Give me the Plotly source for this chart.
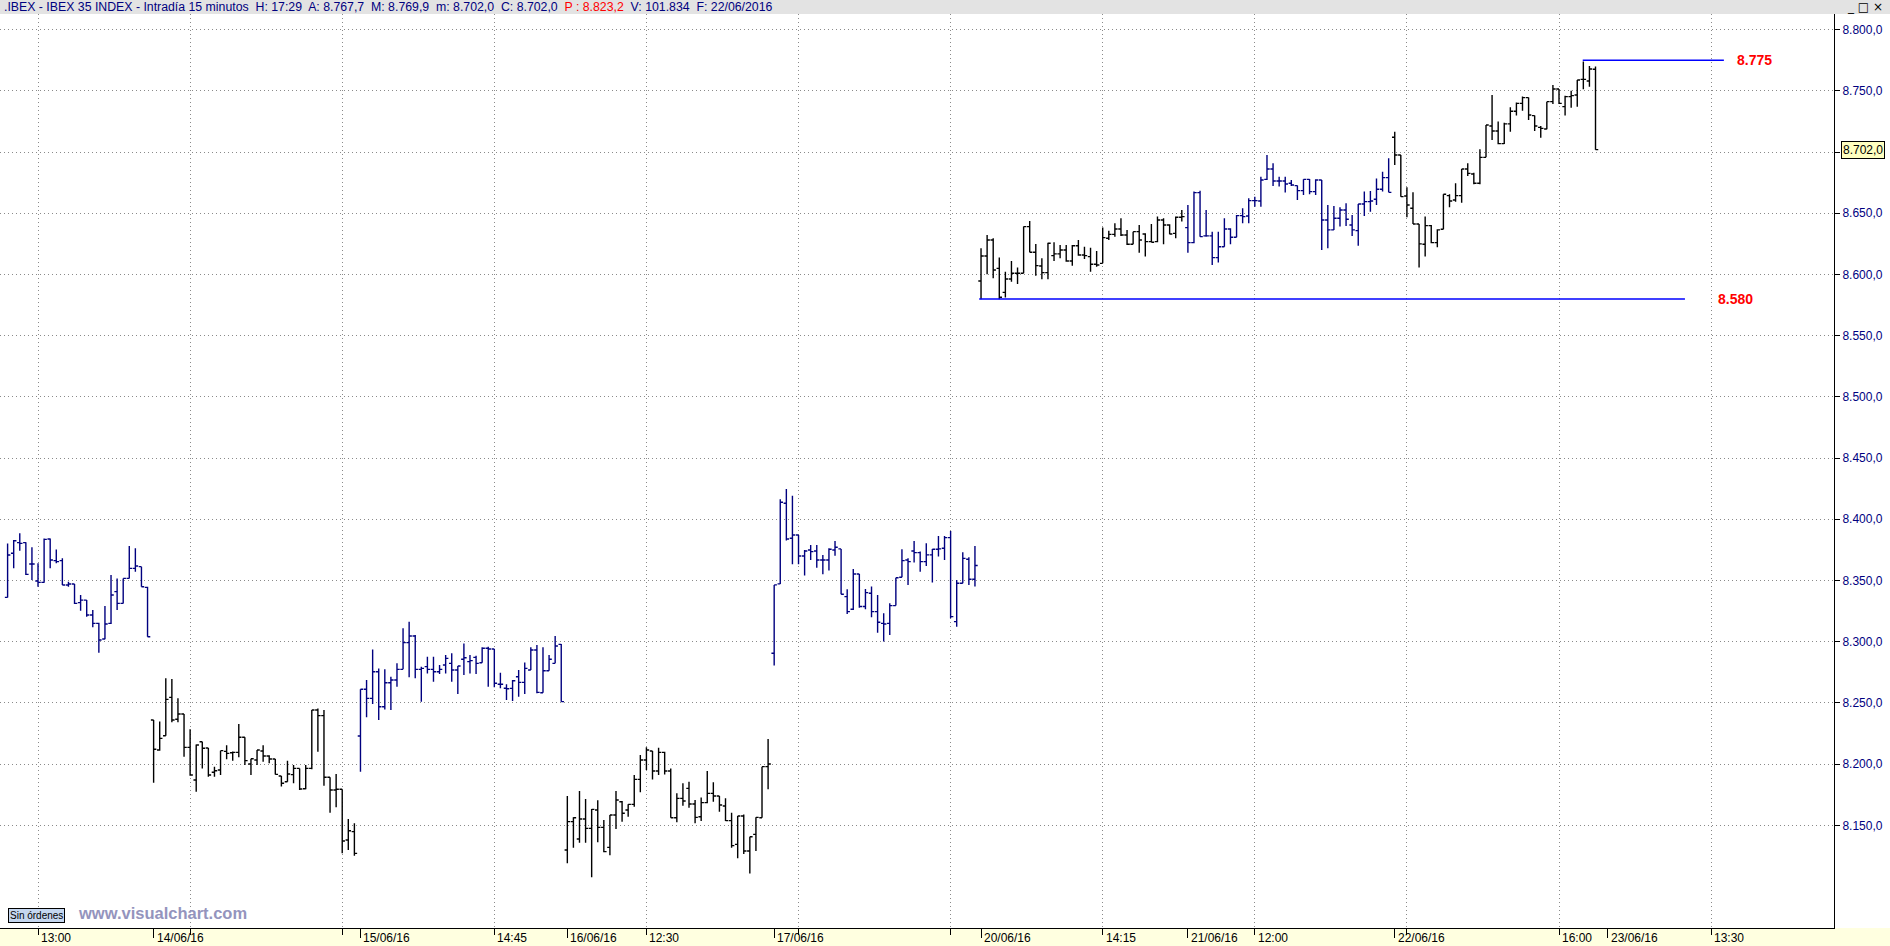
import plotly.graph_objects as go

# ---------------- data (15-minute OHLC bars, IBEX 35) ----------------
# slot index 0 == 13/06 13:00 ; 34 slots per session
bars_13_06 = [(8336.2,8380.3,8336.2,8370.8),(8372.2,8383.1,8359.9,8382.5),(8380.9,8388.5,8374.3,8380.3),
    (8380.9,8381.2,8354.5,8355.0),(8363.5,8377.1,8350.4,8363.5),(8349.6,8364.0,8344.9,8348.5),
    (8348.5,8384.4,8348.2,8383.6),(8383.9,8384.4,8359.9,8366.7),(8366.2,8375.4,8364.0,8365.4),
    (8366.2,8368.1,8346.3,8346.3),(8346.3,8349.0,8344.9,8347.1),(8347.1,8347.1,8330.8,8331.3),
    (8331.9,8338.1,8325.3,8334.0),(8334.0,8334.0,8320.4,8321.8),(8321.8,8325.9,8311.7,8315.0),
    (8315.0,8315.5,8291.0,8301.4),(8302.2,8329.1,8301.9,8314.4),(8315.0,8354.5,8314.4,8338.1),
    (8340.9,8351.7,8325.9,8331.3),(8331.3,8351.7,8331.3,8351.7),(8351.7,8378.2,8351.7,8359.9),
    (8359.9,8376.3,8357.2,8361.8),(8361.3,8361.3,8344.9,8344.9),(8344.4,8344.9,8304.1,8304.1)]
bars_14_06 = [(8236.0,8236.0,8184.8,8212.1),(8211.5,8234.7,8211.0,8221.0),(8223.2,8270.1,8223.2,8252.9),
    (8254.5,8269.5,8234.1,8236.0),(8236.6,8253.7,8234.1,8240.9),(8240.9,8240.9,8206.1,8213.7),
    (8213.7,8228.4,8190.5,8191.1),(8187.0,8216.1,8177.5,8215.6),(8218.3,8218.3,8196.5,8212.9),
    (8213.2,8213.2,8189.7,8191.1),(8193.3,8197.9,8189.7,8194.6),(8195.2,8211.0,8191.1,8211.0),
    (8210.4,8215.3,8203.9,8208.8),(8209.3,8210.2,8202.8,8209.6),(8209.6,8232.8,8205.5,8221.9),
    (8221.9,8221.9,8199.3,8202.8),(8200.1,8204.4,8191.1,8204.4),(8203.4,8211.5,8199.3,8211.5),
    (8210.7,8215.3,8202.0,8206.6),(8206.6,8207.2,8200.6,8204.2),(8204.2,8204.2,8191.6,8191.6),
    (8190.3,8190.3,8181.6,8184.3),(8185.6,8202.8,8185.6,8191.9),(8191.4,8199.3,8184.3,8196.5),
    (8196.5,8196.5,8178.8,8179.7),(8179.9,8199.3,8179.4,8196.5),(8196.5,8244.2,8195.7,8244.2),
    (8244.2,8245.5,8210.1,8239.6),(8239.6,8244.2,8182.4,8189.2),(8189.2,8189.2,8160.3,8178.8),
    (8178.8,8191.9,8164.7,8179.4),(8179.4,8179.4,8127.1,8137.2),(8138.0,8155.1,8129.8,8145.6),
    (8144.8,8151.6,8125.2,8127.1)]
bars_15_06 = [(8223.0,8261.1,8193.8,8261.1),(8261.1,8268.7,8238.2,8253.7),(8253.7,8293.7,8249.1,8275.5),
    (8275.5,8278.2,8236.0,8246.9),(8246.9,8277.4,8244.7,8266.5),(8266.5,8271.4,8244.2,8268.7),
    (8268.7,8282.3,8263.2,8277.4),(8277.4,8310.9,8277.4,8299.2),(8299.2,8316.3,8270.9,8304.6),
    (8304.6,8305.5,8270.1,8277.4),(8277.4,8279.6,8251.0,8278.2),(8279.6,8287.8,8274.1,8277.4),
    (8277.4,8287.8,8267.3,8275.5),(8275.5,8281.0,8273.6,8277.4),(8281.0,8289.1,8274.1,8286.4),
    (8282.3,8290.5,8267.3,8276.9),(8276.9,8280.1,8257.3,8280.1),(8285.6,8298.6,8272.8,8286.9),
    (8283.7,8289.1,8274.1,8284.5),(8287.2,8288.6,8273.6,8282.3),(8282.8,8295.4,8282.8,8294.6),
    (8294.6,8295.9,8263.2,8294.0),(8294.0,8294.0,8262.7,8266.0),(8265.2,8274.7,8261.9,8265.2),
    (8262.0,8265.2,8252.4,8261.6),(8261.9,8268.7,8251.5,8268.1),(8271.4,8276.9,8255.1,8266.8),
    (8266.8,8283.1,8257.3,8278.2),(8276.9,8295.4,8276.9,8293.2),(8293.2,8297.3,8257.8,8258.6),
    (8258.3,8295.4,8258.3,8276.3),(8276.3,8289.1,8276.3,8285.6),(8282.3,8304.6,8282.3,8296.5),
    (8297.8,8298.1,8251.0,8251.0)]
bars_16_06 = [(8129.8,8173.9,8118.9,8153.0),(8153.0,8156.5,8131.7,8156.2),(8138.8,8178.0,8135.8,8155.1),
    (8155.1,8171.5,8135.8,8147.5),(8147.5,8163.3,8107.5,8163.0),(8162.5,8170.4,8136.1,8148.3),
    (8148.3,8154.3,8127.9,8128.5),(8132.0,8158.4,8125.5,8158.4),(8158.4,8178.0,8146.9,8170.7),
    (8169.3,8169.8,8153.0,8159.8),(8162.5,8167.1,8157.0,8167.1),(8167.1,8191.1,8165.2,8187.5),
    (8187.5,8207.4,8176.9,8203.3),(8203.3,8213.7,8195.2,8211.5),(8210.7,8210.7,8187.5,8194.4),
    (8194.4,8213.4,8191.1,8209.6),(8209.6,8210.1,8191.6,8194.4),(8194.4,8196.5,8156.2,8156.2),
    (8156.2,8176.1,8152.4,8172.0),(8172.0,8184.3,8166.0,8169.9),(8180.2,8185.6,8164.4,8167.4),
    (8167.4,8170.7,8151.6,8156.5),(8157.0,8172.8,8153.5,8168.5),(8168.5,8194.4,8168.0,8176.1),
    (8176.1,8185.1,8169.3,8173.9),(8173.9,8173.9,8161.1,8166.6),(8165.8,8172.0,8153.5,8153.8),
    (8153.8,8160.3,8131.7,8133.4),(8134.4,8157.6,8123.0,8157.6),(8157.6,8158.9,8126.5,8129.0),
    (8129.0,8140.7,8110.7,8140.7),(8142.6,8156.5,8129.0,8156.5),(8156.2,8197.9,8156.2,8197.9),
    (8197.9,8220.5,8179.4,8200.1)]
bars_17_06 = [(8290.5,8346.4,8280.5,8346.4),(8347.2,8416.3,8347.2,8413.9),(8413.1,8424.8,8382.6,8383.9),
    (8384.5,8419.3,8363.2,8387.2),(8387.2,8387.2,8363.2,8370.0),(8370.0,8374.9,8354.0,8374.1),
    (8374.9,8379.0,8366.8,8373.6),(8374.1,8379.0,8360.5,8366.8),(8366.8,8370.9,8355.1,8366.8),
    (8366.8,8376.3,8358.1,8375.5),(8374.9,8382.3,8370.3,8377.1),(8375.8,8375.8,8338.7,8338.7),
    (8336.8,8342.8,8322.7,8324.6),(8326.5,8359.4,8325.9,8355.3),(8355.3,8355.3,8327.8,8328.7),
    (8328.7,8343.1,8326.5,8340.1),(8339.6,8345.0,8319.9,8324.6),(8324.6,8338.2,8307.4,8315.9),
    (8315.0,8323.2,8300.1,8314.5),(8315.0,8331.4,8305.5,8329.5),(8329.5,8352.3,8329.5,8352.3),
    (8352.6,8375.5,8352.6,8366.2),(8366.8,8368.1,8346.4,8365.4),(8374.1,8382.3,8364.6,8372.8),
    (8372.8,8373.6,8357.2,8365.4),(8365.4,8380.4,8361.9,8370.9),(8370.9,8375.8,8348.3,8375.5),
    (8375.5,8386.4,8369.5,8375.8),(8376.3,8386.4,8366.8,8385.0),(8385.0,8390.5,8319.1,8320.5),
    (8316.4,8350.4,8312.3,8347.7),(8347.7,8373.0,8347.7,8368.1),(8367.3,8369.0,8346.4,8351.0),
    (8351.0,8378.2,8345.0,8362.2)]
bars_20_06 = [(8594.7,8621.4,8579.7,8615.1),(8615.1,8632.3,8600.1,8628.2),(8628.2,8629.6,8596.9,8603.7),
    (8605.0,8613.8,8579.7,8581.4),(8585.4,8602.3,8581.1,8596.3),(8596.3,8611.0,8594.1,8601.0),
    (8601.0,8605.6,8592.2,8601.0),(8601.0,8639.1,8601.0,8639.1),(8639.1,8643.7,8618.1,8618.1),
    (8618.1,8624.9,8599.0,8607.2),(8606.9,8613.2,8596.0,8601.5),(8601.5,8626.0,8596.0,8625.5),
    (8615.4,8626.3,8611.0,8616.8),(8616.8,8624.1,8613.2,8620.0),(8620.0,8624.1,8610.5,8611.0),
    (8611.0,8624.1,8607.2,8623.5),(8623.5,8628.2,8615.4,8615.9),(8615.9,8622.7,8612.7,8615.4),
    (8614.6,8621.9,8602.3,8608.3),(8608.3,8619.2,8606.4,8607.8),(8609.1,8638.3,8609.1,8630.1),
    (8629.6,8635.8,8628.2,8632.8),(8632.8,8641.8,8630.9,8637.2),(8637.2,8645.9,8631.4,8632.3),
    (8632.3,8636.4,8624.1,8624.7),(8624.7,8635.0,8624.7,8635.0),(8635.0,8640.4,8617.8,8628.2),
    (8633.1,8633.6,8614.6,8626.8),(8626.8,8641.3,8626.3,8626.3),(8626.8,8647.3,8626.3,8644.5),
    (8644.5,8645.9,8624.7,8640.4),(8640.4,8641.0,8632.8,8633.1),(8633.6,8647.3,8629.6,8646.7),
    (8646.7,8652.7,8643.2,8647.3)]
bars_21_06 = [(8638.3,8656.8,8617.8,8626.0),(8626.0,8667.7,8625.5,8666.9),(8666.9,8668.5,8630.9,8630.9),
    (8631.5,8652.7,8630.9,8631.5),(8631.5,8635.0,8607.8,8613.8),(8613.8,8635.0,8609.7,8622.7),
    (8622.7,8645.9,8622.7,8637.2),(8637.2,8637.7,8624.7,8630.4),(8630.4,8648.6,8630.4,8648.1),
    (8648.1,8654.1,8641.8,8647.3),(8647.8,8662.2,8641.8,8660.3),(8660.3,8663.6,8655.4,8660.3),
    (8660.0,8679.9,8655.4,8677.2),(8677.7,8697.6,8677.2,8686.2),(8686.2,8690.8,8672.3,8676.4),
    (8676.4,8679.9,8671.8,8676.4),(8676.4,8679.9,8666.9,8673.9),(8674.5,8677.2,8672.3,8673.1),
    (8672.6,8672.6,8660.9,8668.5),(8668.5,8677.7,8664.9,8677.7),(8677.7,8678.0,8665.5,8667.7),
    (8667.7,8677.7,8664.9,8677.2),(8677.2,8677.2,8620.0,8644.5),(8644.5,8656.8,8621.4,8636.4),
    (8636.4,8656.0,8636.4,8645.9),(8645.9,8654.9,8639.1,8652.7),(8652.7,8658.1,8639.6,8645.1),
    (8640.4,8648.6,8631.5,8636.4),(8635.8,8657.6,8623.5,8657.6),(8657.6,8667.7,8647.8,8659.5),
    (8659.5,8668.2,8651.3,8660.0),(8661.4,8678.5,8656.8,8669.6),(8669.6,8684.0,8667.7,8679.1),
    (8679.1,8694.9,8667.1,8667.1)]
bars_22_06 = [(8712.1,8716.7,8689.5,8697.6),(8697.6,8697.6,8663.6,8663.6),(8664.1,8671.2,8646.7,8656.8),
    (8654.1,8667.1,8641.3,8641.3),(8641.3,8641.3,8605.6,8625.0),(8624.7,8647.3,8614.6,8639.9),
    (8639.9,8640.4,8625.5,8626.0),(8626.0,8636.9,8622.2,8636.4),(8636.9,8665.5,8636.9,8665.5),
    (8664.4,8665.5,8654.9,8660.0),(8660.9,8674.5,8659.5,8664.4),(8664.4,8686.2,8658.7,8686.2),
    (8686.2,8690.8,8680.5,8682.6),(8682.1,8683.2,8673.7,8674.5),(8674.5,8702.3,8673.7,8695.7),
    (8695.7,8722.1,8695.7,8722.1),(8721.3,8746.6,8709.9,8717.2),(8717.2,8724.9,8706.3,8706.9),
    (8706.9,8724.0,8706.6,8723.0),(8723.0,8736.6,8716.7,8733.3),(8733.3,8740.6,8729.8,8739.8),
    (8739.8,8745.3,8733.8,8744.5),(8744.5,8744.5,8726.2,8730.3),(8729.8,8729.8,8717.2,8721.3),
    (8720.2,8721.3,8711.8,8719.4),(8718.9,8741.2,8718.6,8741.2),(8741.2,8754.8,8739.3,8751.5),
    (8751.5,8751.5,8739.3,8739.8),(8737.1,8746.1,8729.8,8745.3),(8745.3,8750.2,8736.3,8746.1),
    (8746.6,8758.9,8737.1,8758.9),(8759.4,8773.9,8751.3,8759.4),(8758.1,8770.3,8753.4,8767.9),
    (8767.7,8769.9,8702.0,8702.0)]

day_bars = [bars_13_06, bars_14_06, bars_15_06, bars_16_06, bars_17_06, bars_20_06, bars_21_06, bars_22_06]
day_first_slot = [-5, 19, 53, 87, 121, 155, 189, 223]
day_color_group = ["blue", "black", "blue", "black", "blue", "black", "blue", "black"]

# x axis: session starts (date labels) and grid slots (time labels)
date_slots = [19, 53, 87, 121, 155, 189, 223, 258]
date_labels = ["14/06/16", "15/06/16", "16/06/16", "17/06/16", "20/06/16", "21/06/16", "22/06/16", "23/06/16"]
grid_slots = [0, 25, 50, 75, 100, 125, 150, 175, 200, 225, 250, 275]
grid_labels = ["13:00", "", "", "14:45", "12:30", "", "", "14:15", "12:00", "", "16:00", "13:30"]

# y axis
y_ticks = [8150, 8200, 8250, 8300, 8350, 8400, 8450, 8500, 8550, 8600, 8650, 8700, 8750, 8800]
y_tick_text = ["8.150,0", "8.200,0", "8.250,0", "8.300,0", "8.350,0", "8.400,0", "8.450,0",
               "8.500,0", "8.550,0", "8.600,0", "8.650,0", "", "8.750,0", "8.800,0"]
last_price = 8702.0
last_price_text = "8.702,0"

# drawn horizontal levels: value, slot span, label
level_values = [8775, 8580]
level_slots = [(253.9, 277.1), (154.7, 270.7)]
level_labels = ["8.775", "8.580"]
level_label_gap = [11, 31]

header_text = (".IBEX - IBEX 35 INDEX - Intradía 15 minutos  H: 17:29  A: 8.767,7  M: 8.769,9  "
               "m: 8.702,0  C: 8.702,0  <span style='color:#ff0000'>P : 8.823,2</span>  V: 101.834  F: 22/06/2016")

# ---------------- figure ----------------
W, H = 1890, 946
ML, MR, MT, MB = 0, 56, 14, 18
PW, PH = W - ML - MR, H - MT - MB
NAVY = "#00007f"
FONT = "Liberation Sans, Arial, sans-serif"
DOT = "1px,3px"

groups = {"blue": {"x": [], "o": [], "h": [], "l": [], "c": []},
          "black": {"x": [], "o": [], "h": [], "l": [], "c": []}}
for bars, start, grp in zip(day_bars, day_first_slot, day_color_group):
    g = groups[grp]
    for i, (o, h, l, c) in enumerate(bars):
        g["x"].append(start + i)
        g["o"].append(o)
        g["h"].append(max(h, o, c))
        g["l"].append(min(l, o, c))
        g["c"].append(c)

fig = go.Figure()
for grp, col in [("blue", NAVY), ("black", "#000000")]:
    g = groups[grp]
    fig.add_trace(go.Ohlc(x=g["x"], open=g["o"], high=g["h"], low=g["l"], close=g["c"],
                          increasing=dict(line=dict(color=col, width=1.4)),
                          decreasing=dict(line=dict(color=col, width=1.4)),
                          tickwidth=0.45, showlegend=False, hoverinfo="skip"))

shapes = []
shapes.append(dict(type="rect", xref="paper", yref="paper", x0=0, x1=W / PW, y0=1, y1=1 + MT / PH,
                   fillcolor="#e3e3e3", line=dict(width=0), layer="below"))
shapes.append(dict(type="rect", xref="paper", yref="paper", x0=0, x1=W / PW, y0=-MB / PH, y1=0,
                   fillcolor="#ffffe0", line=dict(width=0), layer="below"))
for v, (s0, s1) in zip(level_values, level_slots):
    shapes.append(dict(type="line", xref="x", yref="y", x0=s0, x1=s1, y0=v, y1=v,
                       line=dict(color="#0000ff", width=1.5)))

annotations = []
annotations.append(dict(xref="paper", yref="paper", x=2 / PW, y=1 + MT / 2 / PH, xanchor="left", yanchor="middle",
                        text=header_text, showarrow=False, font=dict(family=FONT, size=12.3, color=NAVY)))
annotations.append(dict(xref="paper", yref="paper", x=(W - 5) / PW, y=1 + MT / 2 / PH, xanchor="right",
                        yanchor="middle", text="_ □ ×", showarrow=False,
                        font=dict(family="DejaVu Sans, sans-serif", size=12, color="#000000")))
for s, t in zip(date_slots, date_labels):
    annotations.append(dict(xref="x", yref="paper", x=s, y=0, xanchor="left", yanchor="top", xshift=1,
                            yshift=-1, text=t, showarrow=False, font=dict(family=FONT, size=12, color="#000000")))
for s, t in zip(grid_slots, grid_labels):
    if t:
        annotations.append(dict(xref="x", yref="paper", x=s, y=0, xanchor="left", yanchor="top", xshift=1,
                                yshift=-1, text=t, showarrow=False,
                                font=dict(family=FONT, size=12, color="#000000")))
for v, (s0, s1), t, gap in zip(level_values, level_slots, level_labels, level_label_gap):
    annotations.append(dict(xref="x", yref="y", x=s1, y=v, xanchor="left", yanchor="middle", xshift=gap,
                            text="<b>" + t + "</b>", showarrow=False,
                            font=dict(family=FONT, size=14, color="#ff0000")))
annotations.append(dict(xref="paper", yref="y", x=1, y=last_price, xanchor="left", yanchor="middle", xshift=7,
                        text=last_price_text, showarrow=False, bgcolor="#ffffc0", bordercolor="#000000",
                        borderwidth=1, borderpad=1, font=dict(family=FONT, size=12, color="#000000")))
annotations.append(dict(xref="paper", yref="paper", x=8 / PW, y=13 / PH, xanchor="left", yanchor="middle",
                        text="Sin órdenes", showarrow=False, bgcolor="#c5d7f0", bordercolor="#000000",
                        borderwidth=1, borderpad=1, font=dict(family=FONT, size=10, color="#000000")))
annotations.append(dict(xref="paper", yref="paper", x=76 / PW, y=15 / PH, xanchor="left", yanchor="middle",
                        text="<b>www.visualchart.com</b>", showarrow=False,
                        font=dict(family=FONT, size=16.5, color="#9494bd")))

fig.update_layout(
    width=W, height=H, margin=dict(l=ML, r=MR, t=MT, b=MB, pad=0),
    paper_bgcolor="#ffffff", plot_bgcolor="#ffffff",
    shapes=shapes, annotations=annotations, showlegend=False,
    xaxis=dict(range=[-6.25, 295.2], rangeslider=dict(visible=False), showgrid=False, zeroline=False,
               tickmode="array", tickvals=date_slots, ticktext=[""] * len(date_slots),
               ticks="outside", ticklen=9, tickcolor="#000000", tickwidth=1,
               showline=True, linecolor="#000000", linewidth=1,
               minor=dict(tickmode="array", tickvals=grid_slots, ticks="outside", ticklen=6,
                          tickcolor="#000000", showgrid=True, gridcolor="#8a8a8a", griddash=DOT,
                          gridwidth=1)),
    yaxis=dict(range=[8066.1, 8812.8], side="right", tickmode="array", tickvals=y_ticks, ticktext=y_tick_text,
               ticks="outside", ticklen=5, tickcolor="#000000", showgrid=True, gridcolor="#8a8a8a",
               griddash=DOT, gridwidth=1, zeroline=False, showline=True, linecolor="#000000", linewidth=1,
               tickfont=dict(family=FONT, size=12, color=NAVY)),
)
fig.write_html("out.html", config={"displayModeBar": False},
               post_script="document.body.style.margin='0';document.body.style.overflow='hidden';")
